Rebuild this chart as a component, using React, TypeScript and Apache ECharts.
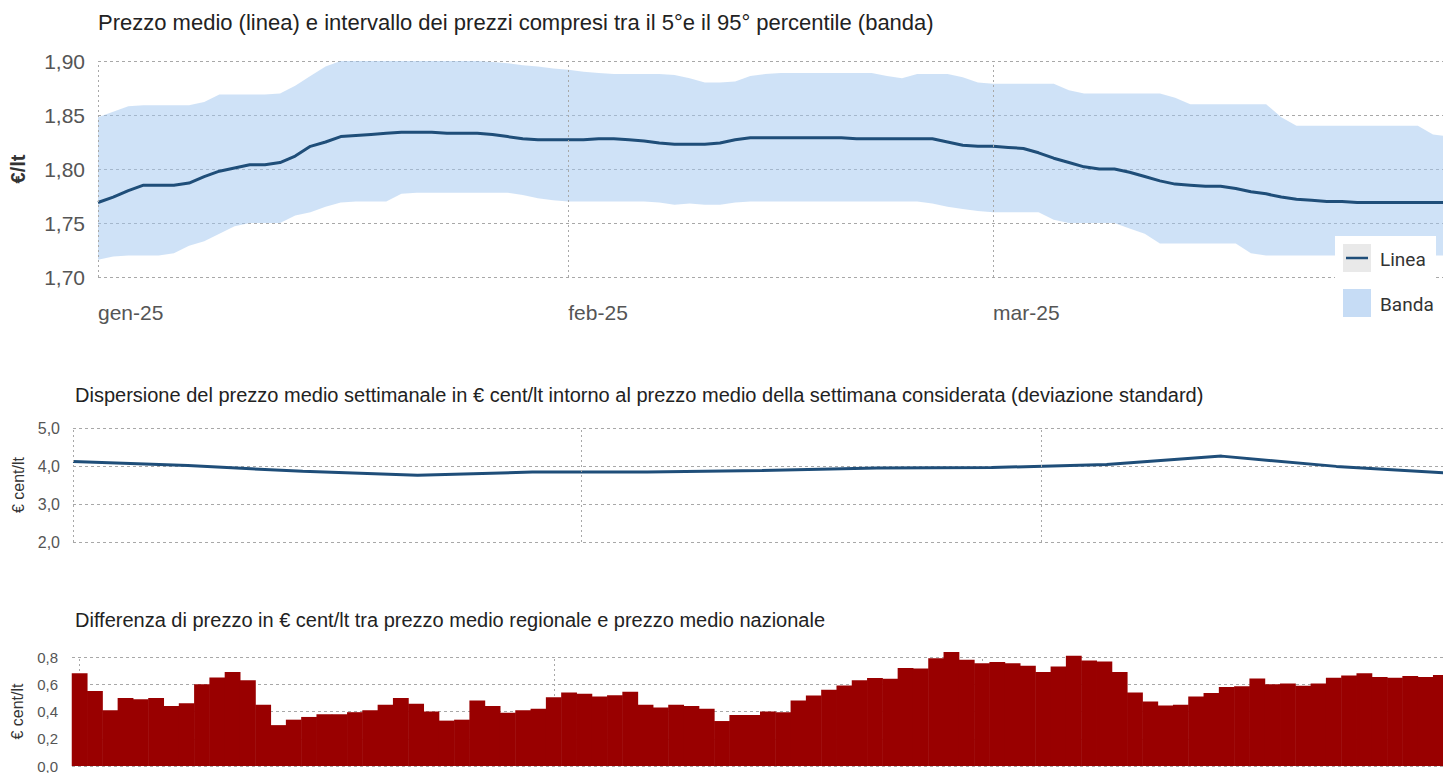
import React, { useEffect, useRef } from 'react';
import * as echarts from 'echarts';

// ---- Tick labels / categories ----
const monthTickDays = [0, 31, 59]; // day index since 1 Jan 2025
const monthTickLabels = ['gen-25', 'feb-25', 'mar-25'];

// ---- Top chart: daily average price (€/lt), 1 Jan .. 31 Mar ----
const avgPrice = [
  1.769, 1.774, 1.780, 1.785, 1.785, 1.785, 1.787, 1.793, 1.798, 1.801,
  1.804, 1.804, 1.806, 1.812, 1.821, 1.825, 1.830, 1.831, 1.832, 1.833,
  1.834, 1.834, 1.834, 1.833, 1.833, 1.833, 1.832, 1.830, 1.828, 1.827,
  1.827, 1.827, 1.827, 1.828, 1.828, 1.827, 1.826, 1.824, 1.823, 1.823,
  1.823, 1.824, 1.827, 1.829, 1.829, 1.829, 1.829, 1.829, 1.829, 1.829,
  1.828, 1.828, 1.828, 1.828, 1.828, 1.828, 1.825, 1.822, 1.821, 1.821,
  1.820, 1.819, 1.815, 1.810, 1.806, 1.802, 1.800, 1.800, 1.797, 1.793,
  1.789, 1.786, 1.785, 1.784, 1.784, 1.782, 1.779, 1.777, 1.774, 1.772,
  1.771, 1.770, 1.770, 1.769, 1.769, 1.769, 1.769, 1.769, 1.769, 1.769,
];

// 95th percentile (upper edge of band)
const bandHigh = [
  1.848, 1.853, 1.858, 1.859, 1.859, 1.859, 1.859, 1.862, 1.869, 1.869,
  1.869, 1.869, 1.870, 1.877, 1.886, 1.895, 1.900, 1.900, 1.900, 1.900,
  1.900, 1.900, 1.900, 1.900, 1.900, 1.900, 1.899, 1.898, 1.896, 1.895,
  1.893, 1.892, 1.890, 1.889, 1.888, 1.888, 1.888, 1.888, 1.887, 1.884,
  1.880, 1.880, 1.881, 1.886, 1.888, 1.889, 1.889, 1.889, 1.889, 1.889,
  1.889, 1.889, 1.886, 1.884, 1.888, 1.888, 1.888, 1.885, 1.880, 1.879,
  1.879, 1.879, 1.879, 1.879, 1.873, 1.870, 1.870, 1.870, 1.870, 1.870,
  1.870, 1.866, 1.860, 1.860, 1.860, 1.860, 1.860, 1.860, 1.848, 1.840,
  1.840, 1.840, 1.840, 1.840, 1.840, 1.840, 1.840, 1.840, 1.832, 1.830,
];

// 5th percentile (lower edge of band)
const bandLow = [
  1.716, 1.719, 1.720, 1.720, 1.720, 1.722, 1.729, 1.733, 1.740, 1.747,
  1.750, 1.750, 1.750, 1.757, 1.760, 1.765, 1.769, 1.770, 1.770, 1.770,
  1.777, 1.778, 1.778, 1.778, 1.778, 1.778, 1.778, 1.778, 1.776, 1.773,
  1.771, 1.770, 1.770, 1.770, 1.770, 1.770, 1.770, 1.769, 1.767, 1.768,
  1.767, 1.767, 1.769, 1.770, 1.770, 1.770, 1.770, 1.770, 1.770, 1.770,
  1.770, 1.770, 1.770, 1.770, 1.770, 1.768, 1.765, 1.763, 1.761, 1.760,
  1.760, 1.760, 1.760, 1.753, 1.750, 1.750, 1.750, 1.750, 1.745, 1.740,
  1.731, 1.731, 1.731, 1.731, 1.731, 1.731, 1.722, 1.720, 1.720, 1.720,
  1.720, 1.720, 1.720, 1.720, 1.720, 1.720, 1.720, 1.720, 1.720, 1.720,
];

// ---- Middle chart: weekly standard deviation (€ cent/lt) ----
const weekDays = [0, 7, 14, 21, 28, 35, 42, 49, 56, 63, 70, 77, 84];
const stdDev = [4.12, 4.01, 3.86, 3.755, 3.84, 3.84, 3.88, 3.945, 3.96, 4.04, 4.26, 3.99, 3.81];

// ---- Bottom chart: daily regional - national difference (€ cent/lt), 1 Jan .. 31 Mar ----
const regionalDiff = [
  0.68, 0.55, 0.41, 0.50, 0.49, 0.50, 0.44, 0.46, 0.60, 0.65,
  0.69, 0.63, 0.45, 0.30, 0.34, 0.36, 0.38, 0.38, 0.395, 0.41,
  0.45, 0.50, 0.456, 0.40, 0.333, 0.34, 0.48, 0.44, 0.39, 0.41,
  0.42, 0.505, 0.54, 0.53, 0.51, 0.52, 0.545, 0.45, 0.43, 0.45,
  0.44, 0.42, 0.33, 0.375, 0.375, 0.40, 0.395, 0.48, 0.517, 0.56,
  0.59, 0.63, 0.645, 0.64, 0.72, 0.715, 0.79, 0.836, 0.78, 0.755,
  0.763, 0.755, 0.736, 0.69, 0.73, 0.81, 0.775, 0.767, 0.69, 0.54,
  0.473, 0.444, 0.45, 0.51, 0.535, 0.58, 0.585, 0.642, 0.60, 0.605,
  0.589, 0.605, 0.647, 0.665, 0.68, 0.653, 0.647, 0.66, 0.653, 0.667,
];

const FONT = "'Liberation Sans', Arial, sans-serif";
const BLUE = '#1f4e79';
const GRID_COLOR = '#a8a8a8';

const vLines = (z?: number) => ({
  silent: true,
  symbol: ['none', 'none'],
  label: { show: false },
  lineStyle: { color: GRID_COLOR, type: [2, 3], width: 1 },
  emphasis: { disabled: true },
  ...(z !== undefined ? { z } : {}),
  data: monthTickDays.map((d) => ({ xAxis: d })),
});

const hSplit = { show: true, lineStyle: { color: GRID_COLOR, type: [3, 3], width: 1 } };

export default function App() {
  const ref = useRef<HTMLDivElement>(null);

  useEffect(() => {
    if (!ref.current) return;
    const chart = echarts.init(ref.current, null, { renderer: 'svg' });

    const option: any = {
      animation: false,
      backgroundColor: '#ffffff',
      textStyle: { fontFamily: FONT },
      title: [
        {
          text: 'Prezzo medio (linea) e intervallo dei prezzi compresi tra il 5°e il 95° percentile (banda)',
          left: 98, top: 11, padding: 0,
          textStyle: { fontSize: 22, fontWeight: 'normal', color: '#222', fontFamily: FONT },
        },
        {
          text: 'Dispersione del prezzo medio settimanale in € cent/lt intorno al prezzo medio della settimana considerata (deviazione standard)',
          left: 75, top: 385, padding: 0,
          textStyle: { fontSize: 20, fontWeight: 'normal', color: '#222', fontFamily: FONT },
        },
        {
          text: 'Differenza di prezzo in € cent/lt tra prezzo medio regionale e prezzo medio nazionale',
          left: 75, top: 610, padding: 0,
          textStyle: { fontSize: 20, fontWeight: 'normal', color: '#222', fontFamily: FONT },
        },
      ],
      grid: [
        { left: 98, right: 0, top: 61, height: 216, containLabel: false, outerBoundsMode: 'none' },
        { left: 73, right: 0, top: 428, height: 114, containLabel: false, outerBoundsMode: 'none' },
        { left: 72, right: 0, top: 657, height: 109, containLabel: false, outerBoundsMode: 'none' },
      ],
      xAxis: [
        {
          gridIndex: 0, type: 'value', min: 0, max: 88.66,
          axisLine: { show: false }, axisTick: { show: false }, splitLine: { show: false },
          axisLabel: {
            customValues: monthTickDays,
            formatter: (v: number) => {
              const i = monthTickDays.indexOf(Math.round(v));
              return i >= 0 && Math.abs(v - monthTickDays[i]) < 0.01 ? monthTickLabels[i] : '';
            },
            align: 'left', margin: 25, fontSize: 21, color: '#555', fontFamily: FONT,
          },
        },
        {
          gridIndex: 1, type: 'value', min: 0, max: 83.5,
          axisLine: { show: false }, axisTick: { show: false }, splitLine: { show: false },
          axisLabel: { show: false },
        },
        {
          gridIndex: 2, type: 'value', min: -0.5, max: 89.14,
          axisLine: { show: false }, axisTick: { show: false }, splitLine: { show: false },
          axisLabel: { show: false },
        },
      ],
      yAxis: [
        {
          gridIndex: 0, type: 'value', min: 1.7, max: 1.9, interval: 0.05,
          axisLine: { show: false }, axisTick: { show: false }, splitLine: hSplit,
          axisLabel: {
            formatter: (v: number) => v.toFixed(2).replace('.', ','),
            fontSize: 21, color: '#555', margin: 13, fontFamily: FONT,
          },
          name: '€/lt', nameLocation: 'middle', nameGap: 70, nameRotate: 90,
          nameTextStyle: { fontSize: 20, fontWeight: 'bold', color: '#333', fontFamily: FONT },
        },
        {
          gridIndex: 1, type: 'value', min: 2, max: 5, interval: 1,
          axisLine: { show: false }, axisTick: { show: false }, splitLine: hSplit,
          axisLabel: {
            formatter: (v: number) => v.toFixed(1).replace('.', ','),
            fontSize: 16, color: '#555', margin: 13, fontFamily: FONT,
          },
          name: '€ cent/lt', nameLocation: 'middle', nameGap: 47, nameRotate: 90,
          nameTextStyle: { fontSize: 16, color: '#333', fontFamily: FONT },
        },
        {
          gridIndex: 2, type: 'value', min: 0, max: 0.8, interval: 0.2,
          axisLine: { show: false }, axisTick: { show: false }, splitLine: hSplit,
          axisLabel: {
            formatter: (v: number) => v.toFixed(1).replace('.', ','),
            fontSize: 15, color: '#555', margin: 14, fontFamily: FONT,
          },
          name: '€ cent/lt', nameLocation: 'middle', nameGap: 47, nameRotate: 90,
          nameTextStyle: { fontSize: 16, color: '#333', fontFamily: FONT },
        },
      ],
      series: [
        {
          name: 'Banda', type: 'custom', xAxisIndex: 0, yAxisIndex: 0,
          silent: true, clip: true, z: 1,
          encode: { x: 0, y: [1, 2] },
          data: bandLow.map((v, i) => [i, v, bandHigh[i]]),
          renderItem: (params: any, api: any) => {
            if (params.dataIndex !== 0) return null;
            const pts: number[][] = [];
            for (let i = 0; i < bandHigh.length; i++) pts.push(api.coord([i, bandHigh[i]]));
            for (let i = bandLow.length - 1; i >= 0; i--) pts.push(api.coord([i, bandLow[i]]));
            return {
              type: 'polygon',
              shape: { points: pts },
              style: { fill: '#9fc5ef', opacity: 0.5 },
              silent: true,
            };
          },
        },
        {
          name: 'Linea', type: 'line', xAxisIndex: 0, yAxisIndex: 0,
          symbol: 'none', silent: true, z: 3,
          lineStyle: { color: BLUE, width: 3 },
          data: avgPrice.map((v, i) => [i, v]),
          markLine: vLines(),
        },
        {
          name: 'Dev', type: 'line', xAxisIndex: 1, yAxisIndex: 1,
          symbol: 'none', silent: true,
          lineStyle: { color: BLUE, width: 3 },
          data: weekDays.map((d, i) => [d, stdDev[i]]),
          markLine: vLines(),
        },
        {
          name: 'Diff', type: 'bar', xAxisIndex: 2, yAxisIndex: 2,
          silent: true, clip: false, barWidth: 15.8,
          itemStyle: { color: '#990000' },
          data: regionalDiff.map((v, i) => [i, v]),
          markLine: vLines(1),
        },
      ],
      graphic: [
        { type: 'rect', shape: { x: 1335, y: 236, width: 101, height: 86 }, style: { fill: '#ffffff' }, z: 50 },
        { type: 'rect', shape: { x: 1343, y: 244, width: 28, height: 28 }, style: { fill: '#e9e9e9' }, z: 51 },
        { type: 'line', shape: { x1: 1346, y1: 258, x2: 1368, y2: 258 }, style: { stroke: BLUE, lineWidth: 2.5 }, z: 52 },
        { type: 'text', x: 1380, y: 259, style: { text: 'Linea', fontSize: 19, fill: '#333', fontFamily: 'Roboto, sans-serif', verticalAlign: 'middle' }, z: 52 },
        { type: 'rect', shape: { x: 1343, y: 289, width: 28, height: 28 }, style: { fill: '#c6dcf5' }, z: 51 },
        { type: 'text', x: 1380, y: 304, style: { text: 'Banda', fontSize: 19, fill: '#333', fontFamily: 'Roboto, sans-serif', verticalAlign: 'middle' }, z: 52 },
      ],
    };

    chart.setOption(option);
    return () => chart.dispose();
  }, []);

  return (
    <div
      ref={ref}
      style={{ position: 'absolute', left: 0, top: 0, width: 1443, height: 773, background: '#fff' }}
    />
  );
}
